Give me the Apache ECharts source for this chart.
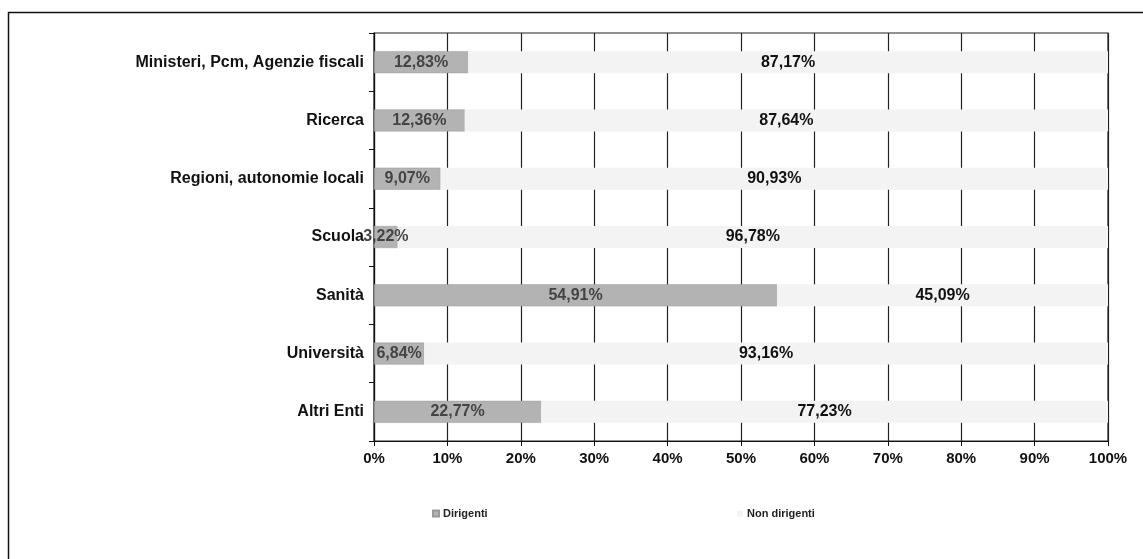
<!DOCTYPE html>
<html>
<head>
<meta charset="utf-8">
<script src="https://cdn.jsdelivr.net/npm/echarts@6/dist/echarts.min.js"></script>
<style>
html,body{margin:0;padding:0;background:#fff;}
#chart{width:1143px;height:559px;}
</style>
</head>
<body>
<div id="chart"></div>
<script>
const categories = ['Ministeri, Pcm, Agenzie fiscali', 'Ricerca', 'Regioni, autonomie locali', 'Scuola', 'Sanità', 'Università', 'Altri Enti'];
const dirigenti = [12.83, 12.36, 9.07, 3.22, 54.91, 6.84, 22.77];
const nonDirigenti = [87.17, 87.64, 90.93, 96.78, 45.09, 93.16, 77.23];
const seriesNames = ['Dirigenti', 'Non dirigenti'];

const FONT = '"Liberation Sans", Arial, sans-serif';
const fmt = p => p.value.toFixed(2).replace('.', ',') + '%';

const chart = echarts.init(document.getElementById('chart'), null, {renderer: 'canvas'});
chart.setOption({
  backgroundColor: '#ffffff',
  animation: false,
  textStyle: {fontFamily: FONT},
  graphic: [{
    type: 'rect',
    shape: {x: 8.5, y: 12.5, width: 1200, height: 600},
    style: {fill: 'none', stroke: '#111', lineWidth: 1.5},
    silent: true, z: -10
  }],
  grid: {
    left: 374, right: 35, top: 33, bottom: 118,
    show: true, borderColor: '#222', borderWidth: 1.2, backgroundColor: 'transparent'
  },
  legend: [{
    data: [seriesNames[0]],
    left: 427, top: 503,
    itemWidth: 6, itemHeight: 6, itemGap: 4,
    icon: 'rect',
    textStyle: {fontFamily: FONT, fontSize: 11, fontWeight: 'bold', color: '#222', padding: [0,0,0,-1]}
  }, {
    data: [seriesNames[1]],
    left: 732, top: 503,
    itemWidth: 6, itemHeight: 6, itemGap: 4,
    icon: 'rect',
    textStyle: {fontFamily: FONT, fontSize: 11, fontWeight: 'bold', color: '#222', padding: [0,0,0,-1]}
  }],
  xAxis: {
    type: 'value', min: 0, max: 100, interval: 10,
    axisLine: {show: true, lineStyle: {color: '#111', width: 1.2}},
    axisTick: {show: true, length: 5, lineStyle: {color: '#111'}},
    splitLine: {show: true, lineStyle: {color: '#222', width: 1.2}},
    axisLabel: {
      formatter: '{value}%', margin: 10,
      fontFamily: FONT, fontSize: 15, fontWeight: 'bold', color: '#111'
    }
  },
  yAxis: {
    type: 'category', data: categories, inverse: true,
    axisLine: {show: true, lineStyle: {color: '#111', width: 1.2}},
    axisTick: {show: true, length: 5, lineStyle: {color: '#111'}},
    axisLabel: {
      margin: 10, fontFamily: FONT, fontSize: 16, fontWeight: 'bold', color: '#111'
    }
  },
  series: [{
    name: seriesNames[0], type: 'bar', stack: 'tot', data: dirigenti, barWidth: 22,
    itemStyle: {color: '#b3b3b3', borderColor: '#9a9a9a', borderWidth: 0.5},
    label: {show: true, position: 'inside', formatter: fmt,
      fontFamily: FONT, fontSize: 16, color: '#444', fontWeight: 'bold'}
  }, {
    name: seriesNames[1], type: 'bar', stack: 'tot', data: nonDirigenti, barWidth: 22,
    itemStyle: {color: '#f3f3f3'},
    label: {show: true, position: 'inside', formatter: fmt,
      fontFamily: FONT, fontSize: 16, color: '#111', fontWeight: 'bold'}
  }]
});
</script>
</body>
</html>
